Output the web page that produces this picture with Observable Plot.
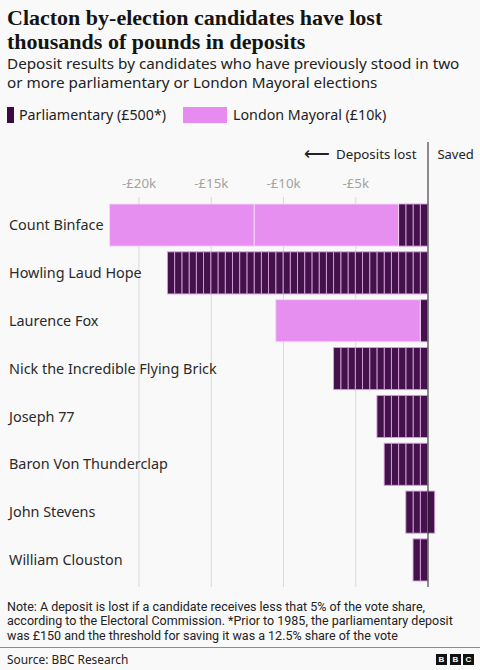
<!DOCTYPE html>
<html><head><meta charset="utf-8">
<script src="https://cdn.jsdelivr.net/npm/d3@7"></script>
<script src="https://cdn.jsdelivr.net/npm/@observablehq/plot@0.6"></script>
<style>
html,body{margin:0;padding:0;background:#f9f9f9;width:480px;height:670px;overflow:hidden;font-family:"Noto Sans",sans-serif;color:#1a1a1a}
.a{position:absolute;white-space:nowrap}
#t{left:7px;top:6px;font:bold 22px/23.5px "Liberation Serif",serif;color:#141414}
#s{left:7px;top:54px;font-size:15.25px;line-height:19px;color:#222}
.lg{font-size:14.25px;line-height:18px;top:106px;color:#222}
.sw{position:absolute;top:107px;height:16px}
#n{left:7px;top:600px;font-family:Roboto,sans-serif;font-size:12.5px;line-height:14.4px;color:#222}
#r{left:0;top:647px;width:480px;height:1px;background:#8c8c8c}
#f{left:7px;top:651px;font-size:11.9px;line-height:17px;color:#222}
.b{position:absolute;top:654px;width:11px;height:11px;background:#111;color:#fff;font:bold 8px/11px "Liberation Sans",sans-serif;text-align:center}
#c{position:absolute;left:0;top:135px}
svg{display:block;background:transparent}
</style></head><body>
<div class="a" id="t">Clacton by-election candidates have lost<br>thousands of pounds in deposits</div>
<div class="a" id="s">Deposit results by candidates who have previously stood in two<br>or more parliamentary or London Mayoral elections</div>
<div class="sw" style="left:7px;width:7px;background:#3d0a45"></div>
<div class="a lg" style="left:19px">Parliamentary (£500*)</div>
<div class="sw" style="left:183px;width:44px;background:#e68bf0"></div>
<div class="a lg" style="left:233px">London Mayoral (£10k)</div>
<div id="c"></div>
<div class="a" id="n">Note: A deposit is lost if a candidate receives less that 5% of the vote share,<br>according to the Electoral Commission. *Prior to 1985, the parliamentary deposit<br>was £150 and the threshold for saving it was a 12.5% share of the vote</div>
<div class="a" id="r"></div>
<div class="a" id="f">Source: BBC Research</div>
<div class="b" style="left:436px">B</div><div class="b" style="left:450px">B</div><div class="b" style="left:463px">C</div>
<script>
const candidates = ["Count Binface","Howling Laud Hope","Laurence Fox","Nick the Incredible Flying Brick","Joseph 77","Baron Von Thunderclap","John Stevens","William Clouston"];
const parliamentaryLost = [4,36,1,13,7,6,3,2];
const mayoralLost = [2,0,1,0,0,0,0,0];
const parliamentarySaved = [0,0,0,0,0,0,1,0];
const ticks = [-20000,-15000,-10000,-5000];
const PARL = 500, MAYOR = 10000;
const DARK = "#3d0a45", PINK = "#e68bf0";

const segments = [];
candidates.forEach((name,i)=>{
  let at = 0;
  for (let k=0;k<parliamentaryLost[i];k++){segments.push({name,type:"p",x1:at,x2:at-PARL});at-=PARL;}
  for (let k=0;k<mayoralLost[i];k++){segments.push({name,type:"m",x1:at,x2:at-MAYOR});at-=MAYOR;}
  at = 0;
  for (let k=0;k<parliamentarySaved[i];k++){segments.push({name,type:"p",x1:at,x2:at+PARL});at+=PARL;}
});

const fmt = d => "-£" + Math.abs(d)/1000 + "k";
const plot = Plot.plot({
  width:480, height:455,
  marginTop:69, marginBottom:9, marginLeft:0, marginRight:0,
  style:{background:"transparent",fontFamily:"'Noto Sans',sans-serif"},
  x:{domain:[-20000,0],range:[138.5,427.5],axis:null},
  y:{type:"band",domain:candidates,paddingInner:0.12,paddingOuter:0,round:false,axis:null},
  color:{domain:["p","m"],range:[DARK,PINK]},
  marks:[
    Plot.ruleX(ticks,{stroke:"#d9d9d9",strokeWidth:1,insetTop:-7,insetBottom:-6}),
    Plot.axisX(ticks,{anchor:"top",tickSize:0,tickPadding:17,tickFormat:fmt,fontSize:13.3,fill:"#a3a3a3",label:null}),
    Plot.rect(segments,{x1:"x1",x2:"x2",y:"name",fill:"type",fillOpacity:0.97,
      stroke:d=>d.type==="m"?"#f6d9f9":"#d99fe0",strokeWidth:0.9}),
    Plot.ruleX([0],{stroke:"#1f1f1f",strokeWidth:1,insetTop:-62,insetBottom:-6}),
    Plot.text(candidates,{y:d=>d,text:d=>d,frameAnchor:"left",dx:8.5,textAnchor:"start",fontSize:14.4,fill:"#2a2a2a"}),
    Plot.text(["⟵"],{x:[-6750],frameAnchor:"top",dy:-50,textAnchor:"end",fontSize:18,fill:"#222",lineAnchor:"middle",text:d=>d}),
    Plot.text(["Deposits lost"],{x:[-800],frameAnchor:"top",dy:-50,textAnchor:"end",fontSize:13.3,fill:"#222",lineAnchor:"middle",text:d=>d}),
    Plot.text(["Saved"],{x:[650],frameAnchor:"top",dy:-50,textAnchor:"start",fontSize:13,fill:"#222",lineAnchor:"middle",text:d=>d})
  ]
});
document.getElementById("c").appendChild(plot);
</script>
</body></html>
